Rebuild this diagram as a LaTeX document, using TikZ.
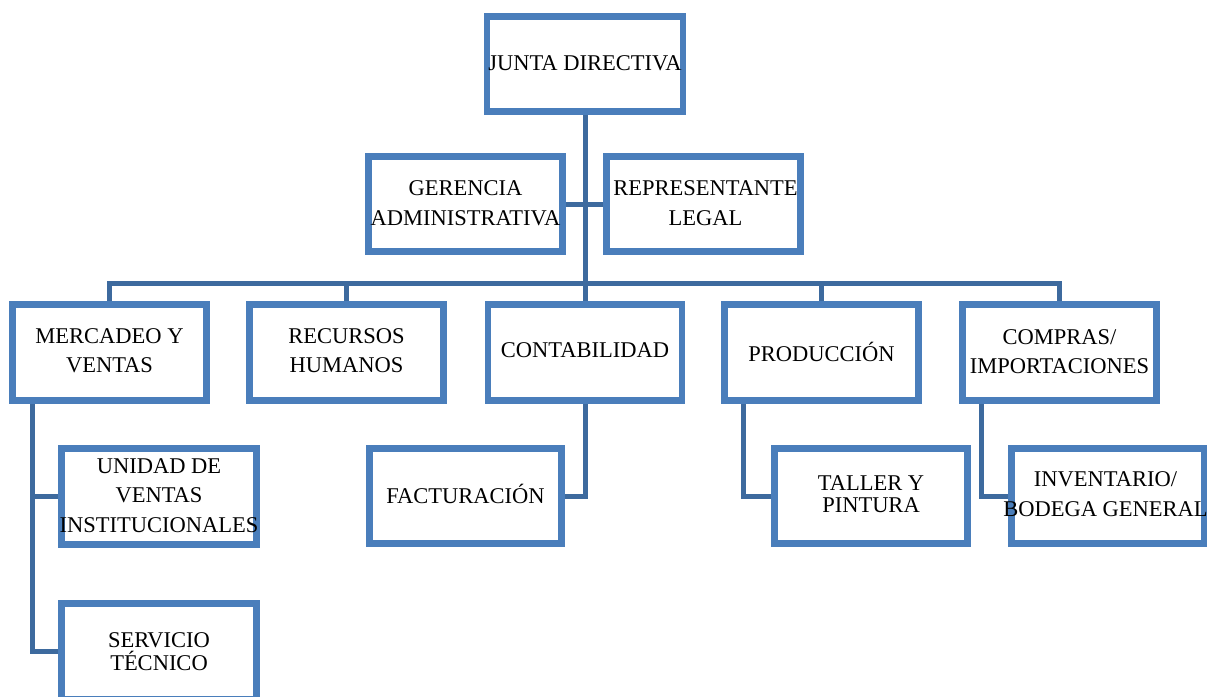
\documentclass[tikz,border=0pt]{standalone}
\usepackage{fontspec}
\setmainfont{Liberation Serif}
\definecolor{boxblue}{HTML}{4A7EBB}
\definecolor{linkblue}{HTML}{3D6A9E}
\begin{document}
\begin{tikzpicture}[x=1pt,y=-1pt,
  box/.style={draw=boxblue, line width=4.2pt, rectangle, minimum width=192pt, minimum height=93pt, inner sep=0pt, fill=white},
  boxline/.style={draw=boxblue, line width=4.2pt},
  txt/.style={align=center, inner sep=0pt, font=\fontsize{22.5}{29.5}\selectfont},
  tighttxt/.style={align=center, inner sep=0pt, font=\fontsize{22.5}{22.5}\selectfont},
  link/.style={draw=linkblue, line width=5pt}]
\clip (0,0) rectangle (1207,696);
\fill[white] (0,0) rectangle (1207,696);

% coordinates for connectors
\coordinate (busL) at (109.5,283);
\coordinate (busR) at (1059.5,283);
\coordinate (mvx) at (32,0);
\coordinate (prx) at (743,0);
\coordinate (cpx) at (981,0);

% boxes
\node[box, minimum width=194pt] (jd) at (585,64) {};
\node[box] (ga) at (465.5,204) {};
\node[box] (rl) at (703.5,204) {};
\node[box, minimum height=94pt] (mv) at (109.5,352.5) {};
\node[box, minimum height=94pt] (rh) at (346.5,352.5) {};
\node[box, minimum height=94pt] (co) at (585,352.5) {};
\node[box, minimum height=94pt] (pr) at (821.5,352.5) {};
\node[box, minimum height=94pt] (cp) at (1059.5,352.5) {};
\node[box, minimum width=193pt, minimum height=94pt] (uv) at (159,496.5) {};
\node[box, minimum width=193pt, minimum height=94pt] (st) at (159,651.5) {};
\node[box, minimum width=190pt] (fa) at (465.5,496) {};
\node[box, minimum width=191pt] (tp) at (871,496) {};
\node[box, minimum width=191pt] (ib) at (1108,496) {};

% connectors
\path[link] (jd.south) -- (co.north);
\path[link] (ga.east) -- (rl.west);
\path[link] (mv.north) -- (busL) -- (busR) -- (cp.north);
\path[link] (rh.north) -- (rh.north |- busL);
\path[link] (pr.north) -- (pr.north |- busL);
\path[link] (mv.south -| mvx) |- (uv.west);
\path[link] (mv.south -| mvx) |- (st.west);
\path[link] (co.south) |- (fa.east);
\path[link] (pr.south -| prx) |- (tp.west);
\path[link] (cp.south -| cpx) |- (ib.west);

% box borders on top of connector ends
\foreach \n in {jd,ga,rl,mv,rh,co,pr,cp,uv,st,fa,tp,ib}{
  \draw[boxline] (\n.north west) rectangle (\n.south east);
}

\node[txt] (jd-t) at ([yshift=1pt]jd.center) {JUNTA DIRECTIVA};
\node[txt] (ga-t) at ([yshift=1pt]ga.center) {GERENCIA\\ADMINISTRATIVA};
\node[txt] (rl-t) at ([xshift=2pt,yshift=1pt]rl.center) {REPRESENTANTE\\LEGAL};
\node[txt] (mv-t) at ([yshift=2pt]mv.center) {MERCADEO Y\\VENTAS};
\node[txt] (rh-t) at ([yshift=2pt]rh.center) {RECURSOS\\HUMANOS};
\node[txt] (co-t) at ([yshift=2pt]co.center) {CONTABILIDAD};
\node[txt] (pr-t) at ([yshift=1pt]pr.center) {PRODUCCIÓN};
\node[txt] (cp-t) at ([yshift=1pt]cp.center) {COMPRAS/\\IMPORTACIONES};
\node[txt] (uv-t) at ([yshift=1pt]uv.center) {UNIDAD DE\\VENTAS\\INSTITUCIONALES};
\node[tighttxt] (st-t) at ([yshift=0pt]st.center) {SERVICIO\\TÉCNICO};
\node[txt] (fa-t) at ([yshift=2pt]fa.center) {FACTURACIÓN};
\node[tighttxt] (tp-t) at ([yshift=2pt]tp.center) {TALLER Y\\PINTURA};
\node[txt] (ib-t) at ([xshift=-2.5pt,yshift=2pt]ib.center) {INVENTARIO/\\BODEGA GENERAL};
\end{tikzpicture}
\end{document}
